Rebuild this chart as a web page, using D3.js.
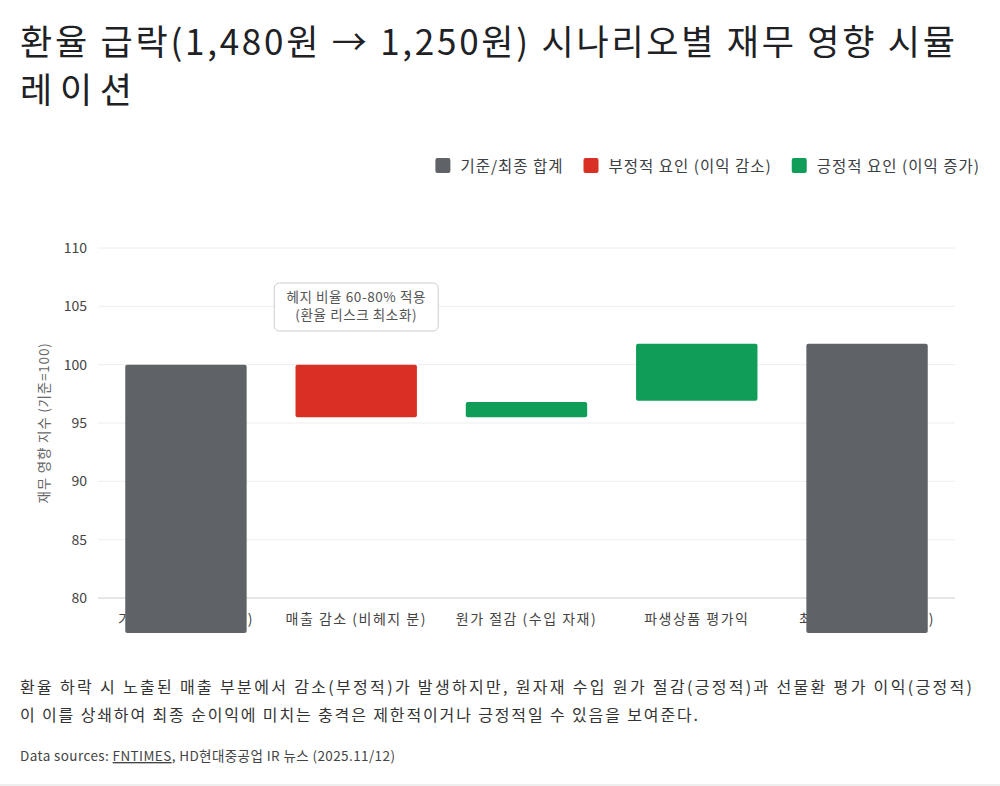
<!DOCTYPE html>
<html><head><meta charset="utf-8">
<script src="https://cdn.jsdelivr.net/npm/d3@7"></script>
<style>
body{margin:0;background:#fff;font-family:"Noto Sans CJK KR","Noto Sans",sans-serif;}
</style></head>
<body><svg id="chart" width="1000" height="786"></svg>
<script>
var categories = ['기준 시점 (1,480원)', '매출 감소 (비헤지 분)', '원가 절감 (수입 자재)', '파생상품 평가익', '최종 결과 (1,250원)'];
var starts = [0, 100, 95.5, 96.9, 0];
var ends = [100, 95.5, 96.8, 101.8, 101.8];
var kinds = ['total', 'neg', 'pos', 'pos', 'total'];
var yTicks = [80, 85, 90, 95, 100, 105, 110];
var colors = {total: '#5f6368', neg: '#d93025', pos: '#0f9d58'};
var legendItems = [['기준/최종 합계', 'total'], ['부정적 요인 (이익 감소)', 'neg'], ['긍정적 요인 (이익 증가)', 'pos']];

var svg = d3.select('#chart');
svg.append('text').attr('x', 20).attr('y', 55).attr('font-size', 35).attr('fill', '#202124')
    .attr('textLength', 935).attr('lengthAdjust', 'spacing').text('환율 급락(1,480원 → 1,250원) 시나리오별 재무 영향 시뮬');
svg.append('text').attr('x', 20).attr('y', 103).attr('font-size', 35).attr('fill', '#202124')
    .attr('textLength', 112).attr('lengthAdjust', 'spacing').text('레이션');

// legend, right aligned
var lg = svg.append('g');
var lx = 980;
for (var i = legendItems.length - 1; i >= 0; i--) {
    var t = lg.append('text').attr('y', 172).attr('font-size', 15.5).attr('letter-spacing', 1).attr('fill', '#3c4043').text(legendItems[i][0]);
    var w = t.node().getComputedTextLength();
    lx -= w;
    t.attr('x', lx);
    lg.append('rect').attr('x', lx - 25).attr('y', 158).attr('width', 15).attr('height', 15).attr('rx', 2).attr('fill', colors[legendItems[i][1]]);
    lx -= 45;
}

var x = d3.scaleBand().domain(categories).range([98, 955]).paddingInner(0.287).paddingOuter(0.16);
var y = d3.scaleLinear().domain([80, 110]).range([598, 248]);

svg.append('g').selectAll('line').data(yTicks).enter().append('line')
    .attr('x1', 98).attr('x2', 955).attr('y1', function(d){return y(d);}).attr('y2', function(d){return y(d);})
    .attr('stroke', function(d){return d === 80 ? '#ccc' : '#eee';}).attr('stroke-width', 1);
svg.append('g').selectAll('text').data(yTicks).enter().append('text')
    .attr('x', 87).attr('y', function(d){return y(d) + 5;}).attr('text-anchor', 'end')
    .attr('font-size', 14).attr('fill', '#444').text(function(d){return d;});
svg.append('text').attr('transform', 'translate(49,423) rotate(-90)').attr('text-anchor', 'middle')
    .attr('font-size', 13.5).attr('letter-spacing', 0.8).attr('fill', '#666').text('재무 영향 지수 (기준=100)');

svg.append('g').selectAll('text').data(categories).enter().append('text')
    .attr('x', function(d){return x(d) + x.bandwidth() / 2;}).attr('y', 624).attr('text-anchor', 'middle')
    .attr('font-size', 14).attr('letter-spacing', 1.5).attr('fill', '#444').text(function(d){return d;});

var floorY = 633; // bars from 0 spill past the axis in the original
svg.append('g').selectAll('rect').data(categories).enter().append('rect')
    .attr('x', function(d){return x(d);}).attr('width', x.bandwidth())
    .attr('y', function(d, i){return y(Math.max(starts[i], ends[i]));})
    .attr('height', function(d, i){
        var lo = starts[i] === 0 ? floorY : y(Math.min(starts[i], ends[i]));
        return lo - y(Math.max(starts[i], ends[i]));
    })
    .attr('rx', 2).attr('fill', function(d, i){return colors[kinds[i]];});

// annotation
var ax = x(categories[1]) + x.bandwidth() / 2;
svg.append('rect').attr('x', ax - 82).attr('y', 283).attr('width', 164).attr('height', 48).attr('rx', 5)
    .attr('fill', '#fff').attr('stroke', '#ccc');
svg.append('text').attr('x', ax).attr('y', 302).attr('text-anchor', 'middle').attr('font-size', 13.5).attr('letter-spacing', 0.6).attr('fill', '#555').text('헤지 비율 60-80% 적용');
svg.append('text').attr('x', ax).attr('y', 320).attr('text-anchor', 'middle').attr('font-size', 13.5).attr('letter-spacing', 0.6).attr('fill', '#555').text('(환율 리스크 최소화)');

svg.append('text').attr('x', 20).attr('y', 693).attr('font-size', 16).attr('fill', '#333')
    .attr('textLength', 952).attr('lengthAdjust', 'spacing').text('환율 하락 시 노출된 매출 부분에서 감소(부정적)가 발생하지만, 원자재 수입 원가 절감(긍정적)과 선물환 평가 이익(긍정적)');
svg.append('text').attr('x', 20).attr('y', 721).attr('font-size', 16).attr('fill', '#333')
    .attr('textLength', 678).attr('lengthAdjust', 'spacing').text('이 이를 상쇄하여 최종 순이익에 미치는 충격은 제한적이거나 긍정적일 수 있음을 보여준다.');
var src = svg.append('text').attr('x', 20).attr('y', 761).attr('font-size', 13.5).attr('letter-spacing', 0.4).attr('fill', '#444');
src.append('tspan').text('Data sources: ');
src.append('tspan').attr('text-decoration', 'underline').text('FNTIMES');
src.append('tspan').text(', HD현대중공업 IR 뉴스 (2025.11/12)');
svg.append('line').attr('x1', 0).attr('x2', 1000).attr('y1', 785).attr('y2', 785).attr('stroke', '#ddd');
</script></body></html>
